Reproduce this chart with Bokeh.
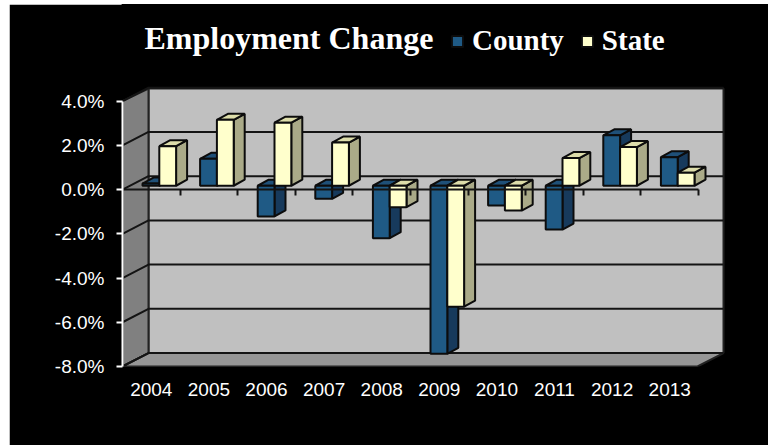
from bokeh.plotting import figure
from bokeh.models import FixedTicker, LinearAxis, Legend, LegendItem, Range1d, Label
from bokeh.embed import file_html
from bokeh.resources import INLINE

years = [2004, 2005, 2006, 2007, 2008, 2009, 2010, 2011, 2012, 2013]
county = [0.1, 1.22, -1.39, -0.59, -2.37, -7.6, -0.89, -1.98, 2.28, 1.29]
state = [1.79, 2.98, 2.85, 1.95, -0.97, -5.47, -1.12, 1.25, 1.75, 0.59]
y_ticks = [-8, -6, -4, -2, 0, 2, 4]

PXX = 57.6   # px per category
PXY = 22.1   # px per percent
OX, OY = 9, 4
W, H = 768 - OX, 445 - OY
FRAME_L, FRAME_R = 122 - OX, 768 - OX
FRAME_T, FRAME_B = 0, 366 - OY
X0 = 2003.5
X1 = X0 + (723 - 122) / PXX
X_END = X0 + (FRAME_R - FRAME_L) / PXX
Y_MIN = -8.0
Y_TOP = 4.0 + 12.5 / PXY           # top of the back wall
Y_MAX = 4.0 + (100.5 - OY) / PXY   # top of the drawing area
WALL_DX, WALL_DY = 26 / PXX, 13.4 / PXY
BAR_DX, BAR_DY = 8 / PXX, 3.8 / PXY
SIDE_DX, SIDE_DY = 11 / PXX, 6 / PXY
BAR_W = 16.8 / PXX
EDGE = "#0c0c0c"

p = figure(width=W, height=H, output_backend="svg", toolbar_location=None,
           x_range=Range1d(X0, X_END), y_range=Range1d(Y_MIN, Y_MAX),
           background_fill_color="#000000", border_fill_color="#000000",
           outline_line_color="#000000", outline_line_width=2, min_border_left=FRAME_L,
           min_border_right=0, min_border_top=0,
           min_border_bottom=H - FRAME_B, x_axis_location=None, y_axis_location=None,
           margin=(OY, 0, 0, OX))
p.grid.visible = False

# walls and floor
bx, by_low = X0 + WALL_DX, Y_MIN + WALL_DY
p.patch([bx, X1, X1, bx], [by_low, by_low, Y_TOP, Y_TOP], fill_color="#c0c0c0", line_color="#222222", line_width=2)
p.patch([X0, bx, bx, X0], [Y_MIN, by_low, Y_TOP, 4], fill_color="#808080", line_color="#222222", line_width=2)
p.patch([X0, bx, X1, X1 - WALL_DX], [Y_MIN, by_low, by_low, Y_MIN], fill_color="#969696", line_color="#222222", line_width=2)

# gridlines over the walls
for v in y_ticks:
    p.line([X0, bx, X1], [v, v + WALL_DY, v + WALL_DY], line_color="#141414", line_width=2)

COLORS = {"County": ("#1f5a85", "#173a5c", "#1f5078"), "State": ("#ffffcc", "#aaaa88", "#ddddaa")}
legend_r = {}

def add_bar(name, y, v, shift):
    x_left = y + BAR_DX + shift - BAR_W
    x_right = x_left + BAR_W
    base = BAR_DY
    lo, hi = min(base, base + v), max(base, base + v)
    fc, sc, tc = COLORS[name]
    p.patch([x_right, x_right + SIDE_DX, x_right + SIDE_DX, x_right],
            [lo, lo + SIDE_DY, hi + SIDE_DY, hi], fill_color=sc, line_color=EDGE, line_width=2)
    p.patch([x_left, x_right, x_right + SIDE_DX, x_left + SIDE_DX],
            [hi, hi, hi + SIDE_DY, hi + SIDE_DY], fill_color=tc, line_color=EDGE, line_width=2)
    r = p.vbar(x=[(x_left + x_right) / 2], width=BAR_W, bottom=[lo], top=[hi],
               fill_color=fc, line_color=EDGE, line_width=2)
    legend_r[name] = r

for i, yr in enumerate(years):
    add_bar("County", yr, county[i], 0)
    add_bar("State", yr, state[i], BAR_W)

# value axis at the front left edge
ya = LinearAxis(ticker=FixedTicker(ticks=y_ticks), bounds=(-8, 4))
ya.major_label_overrides = {v: f"{v:.1f}%" for v in y_ticks}
ya.axis_line_color = "#ffffff"; ya.axis_line_width = 2
ya.major_tick_line_color = "#ffffff"; ya.major_tick_line_width = 2
ya.major_tick_in = 0; ya.major_tick_out = 6; ya.minor_tick_line_color = None
ya.major_label_text_color = "#ffffff"; ya.major_label_text_font = "Liberation Sans"
ya.major_label_text_font_size = "19px"; ya.major_label_standoff = 12
p.add_layout(ya, "left")

# tick marks on the zero line
tick_pos = [y + 0.5 for y in years]
xt = LinearAxis(ticker=FixedTicker(ticks=tick_pos), bounds=(X0, X0 + 10), fixed_location=0)
xt.major_label_overrides = {t: "" for t in tick_pos}
xt.axis_line_color = "#141414"; xt.axis_line_width = 2
xt.major_tick_line_color = "#141414"; xt.major_tick_line_width = 2
xt.major_tick_in = 0; xt.major_tick_out = 6; xt.minor_tick_line_color = None
p.add_layout(xt, "below")

# category labels
xa = LinearAxis(ticker=FixedTicker(ticks=years))
xa.major_label_overrides = {y: str(y) for y in years}
xa.axis_line_color = None; xa.major_tick_line_color = None; xa.minor_tick_line_color = None
xa.major_label_text_color = "#ffffff"; xa.major_label_text_font = "Liberation Sans"
xa.major_label_text_font_size = "19px"; xa.major_label_standoff = 10
p.add_layout(xa, "below")

title = Label(x=X0 + 22 / PXX, y=(189 - 38) / PXY, text="Employment Change", text_color="#ffffff",
              text_font="Liberation Serif", text_font_style="bold", text_font_size="32px",
              text_baseline="middle", text_align="left")
p.add_layout(title)

leg = Legend(items=[LegendItem(label="County", renderers=[legend_r["County"]]),
                    LegendItem(label="State", renderers=[legend_r["State"]])],
             orientation="horizontal", location=(328, 309), background_fill_alpha=0,
             border_line_color=None, label_text_color="#ffffff", label_text_font="Liberation Serif",
             label_text_font_style="bold", label_text_font_size="29px", glyph_width=14, glyph_height=14,
             spacing=16, label_standoff=8, margin=0, padding=0)
p.add_layout(leg, "center")

open("out.html", "w").write(file_html(p, INLINE))
